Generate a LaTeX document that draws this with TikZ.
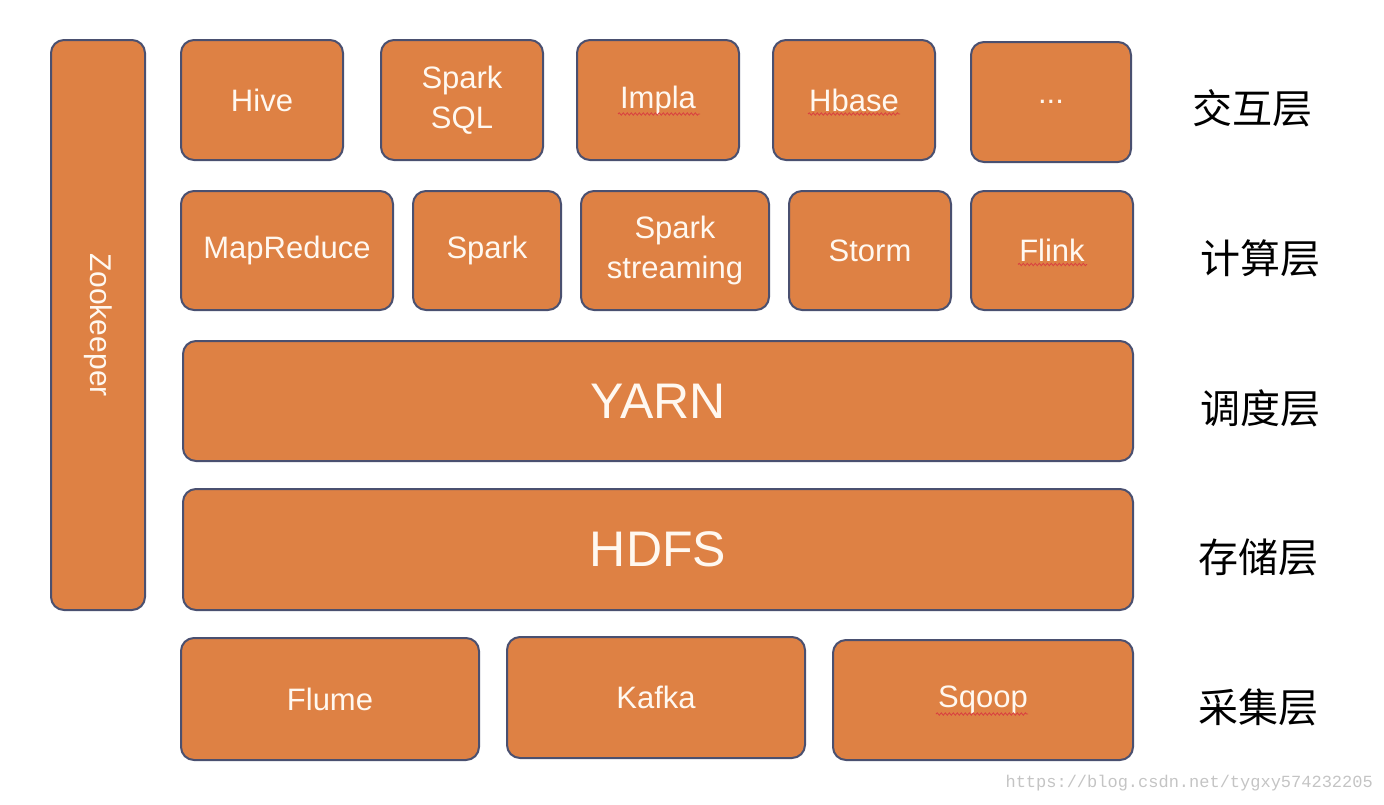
\documentclass[tikz,border=0pt]{standalone}
\usepackage{fontspec}
\setmainfont{Liberation Sans}
\newfontfamily\cjk{Noto Sans CJK SC}
\newfontfamily\wmfont{Liberation Mono}
\usetikzlibrary{decorations.pathmorphing}
\definecolor{boxfill}{HTML}{DE8144}
\definecolor{boxline}{HTML}{4A5070}
\definecolor{boxtext}{HTML}{FFF8F0}
\definecolor{wmgray}{HTML}{C4C4C4}
\definecolor{spellred}{HTML}{D94040}
\begin{document}
\begin{tikzpicture}[x=1pt,y=-1pt,
  box/.style={draw=boxline, line width=2pt, fill=boxfill, rounded corners=13pt,
    text=boxtext, align=center, inner sep=0pt,
    font=\fontsize{31}{40}\selectfont},
  bigbox/.style={box, font=\fontsize{50}{56}\selectfont},
  layer/.style={font=\cjk\fontsize{40}{44}\selectfont, text=black, inner sep=0pt},
  spell/.style={draw=spellred, line width=0.8pt, decorate,
    decoration={snake, amplitude=1.2pt, segment length=4pt}}]
\useasboundingbox (0,0) rectangle (1384,804);
% Zookeeper
\node[box, minimum width=94pt, minimum height=570pt] (zk) at (98,325) {};
\node[rotate=-90, text=boxtext, font=\fontsize{30}{36}\selectfont, inner sep=0pt] (zkt) at (zk.center) {Zookeeper};
% interaction layer
\node[box, minimum width=162pt, minimum height=120pt] (hive) at (262,100) {Hive};
\node[box, minimum width=162pt, minimum height=120pt] (sql) at (462,100) {Spark\\SQL};
\node[box, minimum width=162pt, minimum height=120pt] (impla) at (658,100) {Impla};
\node[box, minimum width=162pt, minimum height=120pt] (hbase) at (854,100) {Hbase};
\node[box, minimum width=160pt, minimum height=120pt] (more) at (1051,102) {...};
% compute layer
\node[box, minimum width=212pt, minimum height=119pt] (mr) at (287,250.5) {MapReduce};
\node[box, minimum width=148pt, minimum height=119pt] (spark) at (487,250.5) {Spark};
\node[box, minimum width=188pt, minimum height=119pt] (sstream) at (675,250.5) {Spark\\streaming};
\node[box, minimum width=162pt, minimum height=119pt] (storm) at (870,250.5) {Storm};
\node[box, minimum width=162pt, minimum height=119pt] (flink) at (1052,250.5) {Flink};
% scheduling / storage
\node[bigbox, minimum width=950pt, minimum height=120pt] (yarn) at (658,401) {YARN};
\node[bigbox, minimum width=950pt, minimum height=121pt] (hdfs) at (658,549.5) {HDFS};
% collection layer
\node[box, minimum width=298pt, minimum height=122pt] (flume) at (330,699) {Flume};
\node[box, minimum width=298pt, minimum height=121pt] (kafka) at (656,697.5) {Kafka};
\node[box, minimum width=300pt, minimum height=120pt] (sqoop) at (983,700) {Sqoop};
% spell-check underlines
\draw[spell] ([xshift=-40pt,yshift=-14pt]impla.center) -- ([xshift=42pt,yshift=-14pt]impla.center);
\draw[spell] ([xshift=-46pt,yshift=-14pt]hbase.center) -- ([xshift=46pt,yshift=-14pt]hbase.center);
\draw[spell] ([xshift=-34pt,yshift=-14pt]flink.center) -- ([xshift=35pt,yshift=-14pt]flink.center);
\draw[spell] ([xshift=-47pt,yshift=-14pt]sqoop.center) -- ([xshift=45pt,yshift=-14pt]sqoop.center);
% layer labels
\node[layer] (l1) at (1252,108) {交互层};
\node[layer] (l2) at (1260,258) {计算层};
\node[layer] (l3) at (1260,408) {调度层};
\node[layer] (l4) at (1258,557) {存储层};
\node[layer] (l5) at (1258,707) {采集层};
% watermark
\node[anchor=east, text=wmgray, font=\wmfont\fontsize{17}{20}\selectfont, inner sep=0pt] (wm) at (1373,783) {https://blog.csdn.net/tygxy574232205};
\end{tikzpicture}
\end{document}
